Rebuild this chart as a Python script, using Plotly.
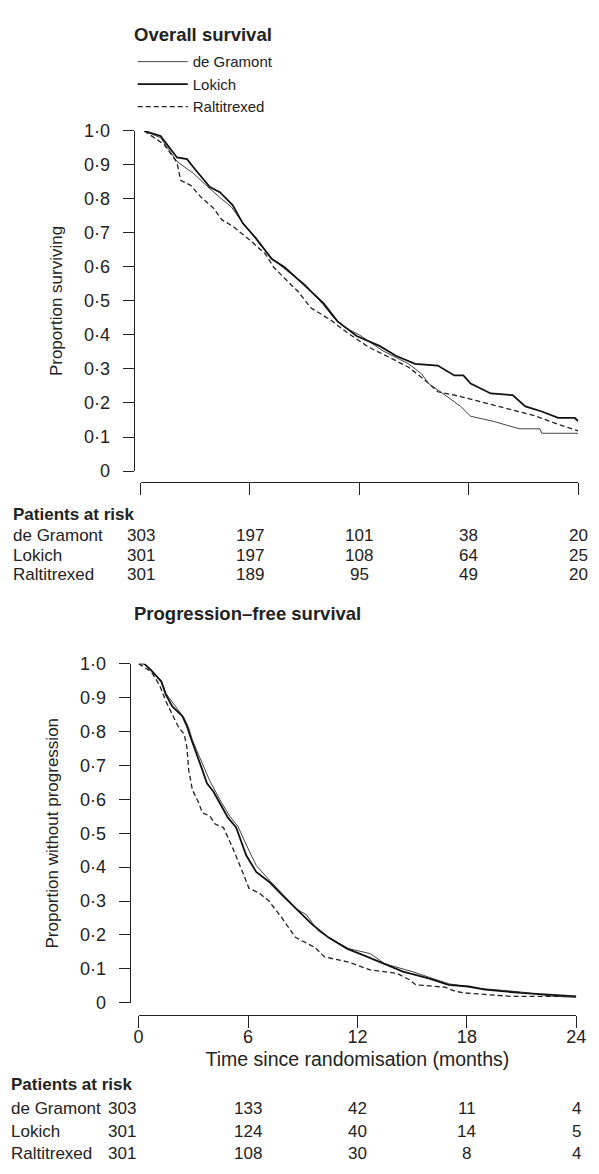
import plotly.graph_objects as go

W, H = 599, 1174
FONT = "Liberation Sans, Arial, sans-serif"

arms = ["de Gramont", "Lokich", "Raltitrexed"]

# ---------------- Overall survival (months, proportion) ----------------
os_t_dg = [0.2, 1.1, 2.0, 2.9, 3.8, 5.0, 5.6, 6.3, 7.2, 8.0, 9.0, 10.0, 10.6, 11.3, 12.0,
           13.3, 14.7, 15.4, 15.8, 16.7, 17.55, 18.1, 19.35, 20.25, 20.8, 21.9, 22.0, 24.0]
os_v_dg = [1.0, 0.98, 0.91, 0.875, 0.83, 0.775, 0.73, 0.685, 0.625, 0.59, 0.55, 0.49, 0.45, 0.42, 0.40,
           0.353, 0.315, 0.286, 0.257, 0.223, 0.19, 0.161, 0.146, 0.132, 0.124, 0.124, 0.111, 0.111]

os_t_lk = [0.2, 1.1, 2.0, 2.55, 2.9, 3.8, 4.35, 5.05, 5.6, 6.3, 7.2, 7.9, 9.0, 10.05, 10.8,
           11.85, 13.1, 14.0, 15.05, 16.3, 17.2, 17.7, 18.1, 19.2, 20.4, 21.1, 22.0, 22.9, 23.8, 24.0]
os_v_lk = [1.0, 0.985, 0.922, 0.917, 0.893, 0.835, 0.82, 0.782, 0.729, 0.686, 0.623, 0.599, 0.546, 0.492, 0.44,
           0.397, 0.368, 0.339, 0.315, 0.31, 0.281, 0.281, 0.257, 0.228, 0.223, 0.19, 0.175, 0.156, 0.156, 0.147]

os_t_rt = [0.2, 1.3, 2.0, 2.2, 2.75, 3.3, 4.0, 4.45, 5.05, 5.95, 6.85, 7.3, 8.1, 8.65, 9.35,
           10.4, 11.4, 12.55, 13.65, 14.7, 15.6, 16.3, 17.55, 19.0, 20.25, 21.7, 22.9, 24.0]
os_v_rt = [1.0, 0.96, 0.907, 0.855, 0.84, 0.806, 0.773, 0.739, 0.72, 0.681, 0.638, 0.599, 0.556, 0.527, 0.479,
           0.445, 0.404, 0.363, 0.334, 0.305, 0.267, 0.233, 0.219, 0.199, 0.18, 0.161, 0.137, 0.118]

# ---------------- Progression-free survival ----------------
pfs_t_dg = [0.0, 0.3, 0.7, 1.25, 1.5, 2.1, 2.5, 2.75, 2.95, 3.3, 3.6, 3.9, 4.25, 4.55, 5.0, 5.45, 6.0,
            6.45, 7.2, 7.9, 8.7, 9.2, 9.85, 10.5, 11.5, 12.7, 13.5, 15.0, 16.0, 17.0, 18.6, 20.95, 22.75, 24.0]
pfs_v_dg = [1.0, 1.0, 0.98, 0.95, 0.912, 0.87, 0.84, 0.81, 0.775, 0.73, 0.69, 0.655, 0.62, 0.59, 0.55, 0.52, 0.455,
            0.405, 0.36, 0.32, 0.275, 0.26, 0.212, 0.19, 0.16, 0.145, 0.115, 0.092, 0.075, 0.056, 0.043, 0.032, 0.019, 0.016]

pfs_t_lk = [0.0, 0.3, 0.7, 1.25, 1.5, 1.85, 2.4, 2.65, 2.85, 3.2, 3.5, 3.75, 4.1, 4.45, 4.9, 5.35, 5.9,
            6.45, 7.15, 7.85, 8.75, 9.5, 10.4, 11.45, 12.35, 13.4, 14.5, 15.9, 17.0, 18.1, 19.0, 20.95, 22.75, 24.0]
pfs_v_lk = [1.0, 1.0, 0.98, 0.947, 0.908, 0.874, 0.845, 0.816, 0.783, 0.734, 0.686, 0.647, 0.623, 0.589, 0.546, 0.517, 0.435,
            0.386, 0.357, 0.319, 0.27, 0.232, 0.193, 0.159, 0.14, 0.116, 0.092, 0.072, 0.053, 0.048, 0.039, 0.029, 0.024, 0.019]

pfs_t_rt = [0.0, 0.7, 1.15, 1.5, 1.85, 2.2, 2.5, 2.65, 2.75, 2.95, 3.3, 3.5, 3.9, 4.2, 4.65, 5.1, 5.7,
            6.05, 6.6, 7.15, 7.85, 8.6, 8.95, 9.65, 10.2, 11.45, 12.7, 14.15, 14.85, 15.2, 16.8, 17.35, 17.9, 19.5, 20.4, 24.0]
pfs_v_rt = [1.0, 0.976, 0.937, 0.889, 0.85, 0.812, 0.792, 0.754, 0.686, 0.628, 0.589, 0.56, 0.551, 0.527, 0.517, 0.464, 0.386,
            0.338, 0.324, 0.3, 0.251, 0.193, 0.183, 0.164, 0.135, 0.121, 0.097, 0.087, 0.068, 0.053, 0.046, 0.034, 0.029, 0.024, 0.019, 0.019]

# ---------------- Axes / tables ----------------
x_ticks = [0, 6, 12, 18, 24]
y_ticks = [0, 0.1, 0.2, 0.3, 0.4, 0.5, 0.6, 0.7, 0.8, 0.9, 1.0]
y_tick_text = ["0", "0·1", "0·2", "0·3", "0·4", "0·5", "0·6", "0·7", "0·8", "0·9", "1·0"]

os_risk = {"de Gramont": [303, 197, 101, 38, 20],
           "Lokich": [301, 197, 108, 64, 25],
           "Raltitrexed": [301, 189, 95, 49, 20]}
pfs_risk = {"de Gramont": [303, 133, 42, 11, 4],
            "Lokich": [301, 124, 40, 14, 5],
            "Raltitrexed": [301, 108, 30, 8, 4]}

styles = {
    "de Gramont": dict(color="#444444", width=1.0, dash="solid"),
    "Lokich": dict(color="#111111", width=1.8, dash="solid"),
    "Raltitrexed": dict(color="#222222", width=1.3, dash="5px,3px"),
}


def fx(px):
    return px / W


def fy(py):
    return 1 - py / H


fig = go.Figure()

os_data = {"de Gramont": (os_t_dg, os_v_dg), "Lokich": (os_t_lk, os_v_lk), "Raltitrexed": (os_t_rt, os_v_rt)}
pfs_data = {"de Gramont": (pfs_t_dg, pfs_v_dg), "Lokich": (pfs_t_lk, pfs_v_lk), "Raltitrexed": (pfs_t_rt, pfs_v_rt)}

for arm in arms:
    t, v = os_data[arm]
    fig.add_trace(go.Scatter(x=t, y=v, mode="lines", name=arm, line=styles[arm],
                             xaxis="x", yaxis="y", showlegend=True))
for arm in arms:
    t, v = pfs_data[arm]
    fig.add_trace(go.Scatter(x=t, y=v, mode="lines", name=arm, line=styles[arm],
                             xaxis="x2", yaxis="y2", showlegend=False))

axis_common = dict(showgrid=False, zeroline=False, showline=True, linecolor="#222", linewidth=1.2,
                   ticks="outside", tickcolor="#222", tickwidth=1.2)
tick_font = dict(family=FONT, size=18, color="#222")

fig.update_layout(
    width=W, height=H,
    margin=dict(l=0, r=0, t=0, b=0),
    paper_bgcolor="white", plot_bgcolor="white",
    font=dict(family=FONT, color="#222"),
    xaxis=dict(domain=[fx(139), fx(588)], range=[0, 24], anchor="free", position=fy(480),
               tickvals=x_ticks, showticklabels=False, ticklen=12, **axis_common),
    yaxis=dict(domain=[fy(469), fy(123)], range=[0, 1], anchor="free", position=fx(132),
               tickvals=y_ticks, ticktext=y_tick_text, ticklen=11, ticklabelstandoff=9, tickfont=tick_font,
               title=dict(text="Proportion surviving", font=dict(family=FONT, size=17, color="#222"), standoff=16),
               **axis_common),
    xaxis2=dict(domain=[fx(137), fx(586)], range=[0, 24], anchor="free", position=fy(1022),
                tickvals=x_ticks, ticklen=12, ticklabelstandoff=-6, tickfont=tick_font,
                title=dict(text="Time since randomisation (months)", font=dict(family=FONT, size=19.5, color="#222"),
                           standoff=6),
                **axis_common),
    yaxis2=dict(domain=[fy(1010), fy(665)], range=[0, 1], anchor="free", position=fx(128),
                tickvals=y_ticks, ticktext=y_tick_text, ticklen=11, ticklabelstandoff=9, tickfont=tick_font,
                title=dict(text="Proportion without progression", font=dict(family=FONT, size=17, color="#222"),
                           standoff=16),
                **axis_common),
    legend=dict(x=fx(131), y=fy(36), xanchor="left", yanchor="top", bgcolor="rgba(0,0,0,0)",
                font=dict(family=FONT, size=15, color="#222"), tracegroupgap=0, itemwidth=50),
)

ann = []
# panel titles
ann.append(dict(text="<b>Overall survival</b>", x=fx(130), y=fy(25), xref="paper", yref="paper",
                xanchor="left", yanchor="middle", showarrow=False, font=dict(family=FONT, size=18.5, color="#222")))
ann.append(dict(text="<b>Progression–free survival</b>", x=fx(130), y=fy(614), xref="paper", yref="paper",
                xanchor="left", yanchor="middle", showarrow=False, font=dict(family=FONT, size=18.5, color="#222")))


def risk_table(risk, xref, left_px, head_y, row_ys, first_shift):
    ann.append(dict(text="<b>Patients at risk</b>", x=fx(left_px), y=fy(head_y), xref="paper", yref="paper",
                    xanchor="left", yanchor="middle", showarrow=False,
                    font=dict(family=FONT, size=17, color="#222")))
    for arm, ry in zip(arms, row_ys):
        ann.append(dict(text=arm, x=fx(left_px), y=fy(ry), xref="paper", yref="paper", xanchor="left",
                        yanchor="middle", showarrow=False, font=dict(family=FONT, size=17, color="#222")))
        for i, (tv, n) in enumerate(zip(x_ticks, risk[arm])):
            ann.append(dict(text=str(n), x=tv, y=fy(ry), xref=xref, yref="paper", xanchor="center",
                            yanchor="middle", showarrow=False, xshift=first_shift if i == 0 else 0,
                            font=dict(family=FONT, size=17, color="#222")))


risk_table(os_risk, "x", 6, 513, [535, 555, 574], 0)
risk_table(pfs_risk, "x2", 4, 1093, [1118, 1141, 1163], -17)

fig.update_layout(annotations=ann)
fig.write_html("out.html", config={"displayModeBar": False},
               post_script="document.body.style.margin='0';document.body.style.overflow='hidden';")
